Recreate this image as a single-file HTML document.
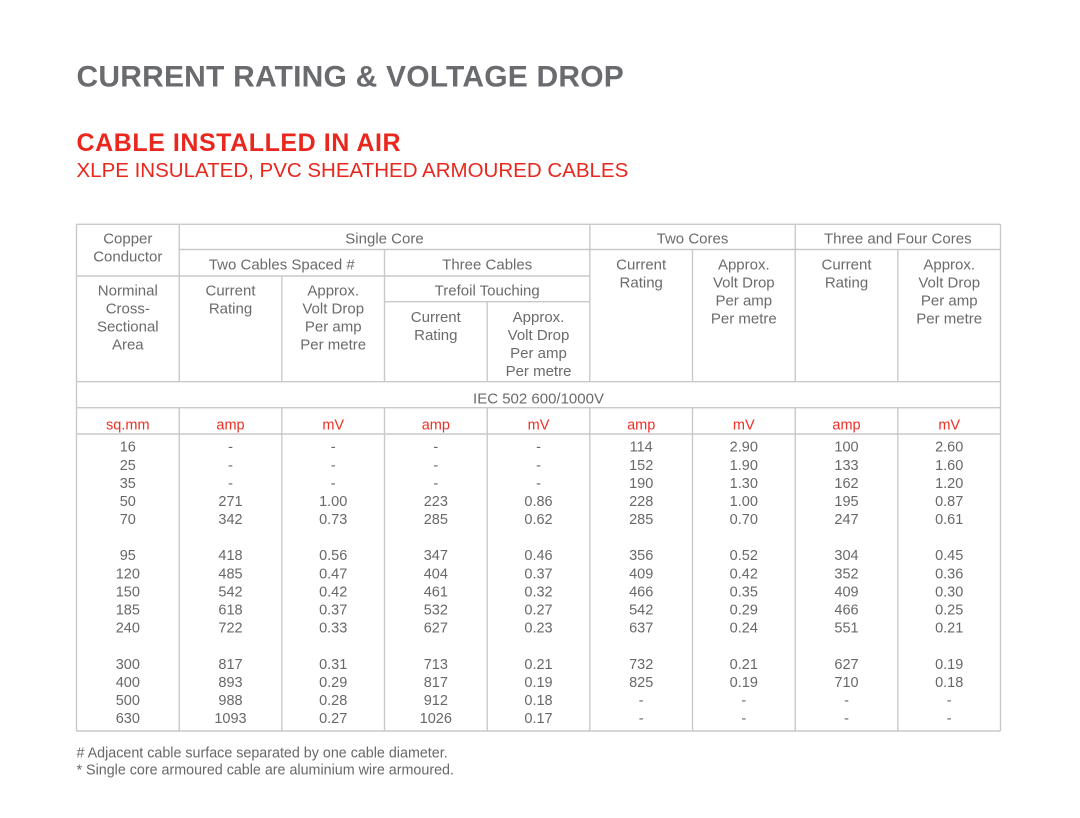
<!DOCTYPE html>
<html><head><meta charset="utf-8"><style>
html,body{margin:0;padding:0;background:#fff;}
body{width:1080px;height:818px;overflow:hidden;position:relative;}
svg{position:absolute;left:0;top:0;}
text{font-family:"Liberation Sans",Arial,sans-serif;}
.h{font-size:15px;fill:#6a6b6d;text-anchor:middle;}
.d{font-size:14.5px;fill:#67686a;text-anchor:middle;}
.u{font-size:14.5px;fill:#ee2e24;text-anchor:middle;}
.f{font-size:14.3px;fill:#67686a;}
</style></head><body>
<svg width="1080" height="818" viewBox="0 0 1080 818" xmlns="http://www.w3.org/2000/svg">
<rect width="1080" height="818" fill="#fff"/>
<text x="76.5" y="86.5" font-size="30" font-weight="bold" fill="#6a6b6e" letter-spacing="0.2">CURRENT RATING &amp; VOLTAGE DROP</text>
<text x="76.5" y="151.2" font-size="25" font-weight="bold" fill="#e9271e" letter-spacing="0.55">CABLE INSTALLED IN AIR</text>
<text x="76.5" y="177" font-size="20.5" fill="#e9271e">XLPE INSULATED, PVC SHEATHED ARMOURED CABLES</text>

<g stroke="#c9c9c9" stroke-width="1.4" fill="none">
<line x1="76.5" y1="224.3" x2="1000.5" y2="224.3"/>
<line x1="179.2" y1="249.5" x2="1000.5" y2="249.5"/>
<line x1="76.5" y1="276" x2="589.8" y2="276"/>
<line x1="384.5" y1="301.7" x2="589.8" y2="301.7"/>
<line x1="76.5" y1="381.7" x2="1000.5" y2="381.7"/>
<line x1="76.5" y1="407.7" x2="1000.5" y2="407.7"/>
<line x1="76.5" y1="434" x2="1000.5" y2="434"/>
<line x1="76.5" y1="731" x2="1000.5" y2="731"/>
<line x1="76.5" y1="224.3" x2="76.5" y2="731"/>
<line x1="1000.5" y1="224.3" x2="1000.5" y2="731"/>
<line x1="179.2" y1="224.3" x2="179.2" y2="381.7"/>
<line x1="281.8" y1="276" x2="281.8" y2="381.7"/>
<line x1="384.5" y1="249.5" x2="384.5" y2="381.7"/>
<line x1="487.2" y1="301.7" x2="487.2" y2="381.7"/>
<line x1="589.8" y1="224.3" x2="589.8" y2="381.7"/>
<line x1="692.5" y1="249.5" x2="692.5" y2="381.7"/>
<line x1="795.2" y1="224.3" x2="795.2" y2="381.7"/>
<line x1="897.8" y1="249.5" x2="897.8" y2="381.7"/>
<line x1="179.2" y1="407.7" x2="179.2" y2="731"/>
<line x1="281.8" y1="407.7" x2="281.8" y2="731"/>
<line x1="384.5" y1="407.7" x2="384.5" y2="731"/>
<line x1="487.2" y1="407.7" x2="487.2" y2="731"/>
<line x1="589.8" y1="407.7" x2="589.8" y2="731"/>
<line x1="692.5" y1="407.7" x2="692.5" y2="731"/>
<line x1="795.2" y1="407.7" x2="795.2" y2="731"/>
<line x1="897.8" y1="407.7" x2="897.8" y2="731"/>
</g>

<g class="h">
<text class="h" x="127.8" y="243.3">Copper</text>
<text class="h" x="127.8" y="261.3">Conductor</text>
<text class="h" x="384.5" y="243.3">Single Core</text>
<text class="h" x="692.5" y="243.3">Two Cores</text>
<text class="h" x="897.8" y="243.3">Three and Four Cores</text>
<text class="h" x="281.8" y="269.3">Two Cables Spaced #</text>
<text class="h" x="487.2" y="269.3">Three Cables</text>
<text class="h" x="487.2" y="295.3">Trefoil Touching</text>

<text class="h" x="127.8" y="295.3">Norminal</text>
<text class="h" x="127.8" y="313.3">Cross-</text>
<text class="h" x="127.8" y="331.3">Sectional</text>
<text class="h" x="127.8" y="349.3">Area</text>

<text class="h" x="230.5" y="295.3">Current</text>
<text class="h" x="230.5" y="313.3">Rating</text>
<text class="h" x="333.2" y="295.3">Approx.</text>
<text class="h" x="333.2" y="313.3">Volt Drop</text>
<text class="h" x="333.2" y="331.3">Per amp</text>
<text class="h" x="333.2" y="349.3">Per metre</text>

<text class="h" x="435.8" y="321.8">Current</text>
<text class="h" x="435.8" y="339.8">Rating</text>
<text class="h" x="538.5" y="321.8">Approx.</text>
<text class="h" x="538.5" y="339.8">Volt Drop</text>
<text class="h" x="538.5" y="357.8">Per amp</text>
<text class="h" x="538.5" y="375.8">Per metre</text>

<text class="h" x="641.2" y="269.3">Current</text>
<text class="h" x="641.2" y="287.3">Rating</text>
<text class="h" x="743.8" y="269.3">Approx.</text>
<text class="h" x="743.8" y="287.3">Volt Drop</text>
<text class="h" x="743.8" y="305.3">Per amp</text>
<text class="h" x="743.8" y="323.3">Per metre</text>

<text class="h" x="846.5" y="269.3">Current</text>
<text class="h" x="846.5" y="287.3">Rating</text>
<text class="h" x="949.2" y="269.3">Approx.</text>
<text class="h" x="949.2" y="287.3">Volt Drop</text>
<text class="h" x="949.2" y="305.3">Per amp</text>
<text class="h" x="949.2" y="323.3">Per metre</text>

<text class="h" x="538.5" y="403.6">IEC 502 600/1000V</text>
</g>

<text class="u" y="429.3"><tspan x="127.8">sq.mm</tspan><tspan x="230.5">amp</tspan><tspan x="333.2">mV</tspan><tspan x="435.8">amp</tspan><tspan x="538.5">mV</tspan><tspan x="641.2">amp</tspan><tspan x="743.8">mV</tspan><tspan x="846.5">amp</tspan><tspan x="949.2">mV</tspan></text>

<text class="d" y="451.7"><tspan x="127.8">16</tspan><tspan x="230.5">-</tspan><tspan x="333.2">-</tspan><tspan x="435.8">-</tspan><tspan x="538.5">-</tspan><tspan x="641.2">114</tspan><tspan x="743.8">2.90</tspan><tspan x="846.5">100</tspan><tspan x="949.2">2.60</tspan></text>
<text class="d" y="469.8"><tspan x="127.8">25</tspan><tspan x="230.5">-</tspan><tspan x="333.2">-</tspan><tspan x="435.8">-</tspan><tspan x="538.5">-</tspan><tspan x="641.2">152</tspan><tspan x="743.8">1.90</tspan><tspan x="846.5">133</tspan><tspan x="949.2">1.60</tspan></text>
<text class="d" y="487.9"><tspan x="127.8">35</tspan><tspan x="230.5">-</tspan><tspan x="333.2">-</tspan><tspan x="435.8">-</tspan><tspan x="538.5">-</tspan><tspan x="641.2">190</tspan><tspan x="743.8">1.30</tspan><tspan x="846.5">162</tspan><tspan x="949.2">1.20</tspan></text>
<text class="d" y="506.0"><tspan x="127.8">50</tspan><tspan x="230.5">271</tspan><tspan x="333.2">1.00</tspan><tspan x="435.8">223</tspan><tspan x="538.5">0.86</tspan><tspan x="641.2">228</tspan><tspan x="743.8">1.00</tspan><tspan x="846.5">195</tspan><tspan x="949.2">0.87</tspan></text>
<text class="d" y="524.1"><tspan x="127.8">70</tspan><tspan x="230.5">342</tspan><tspan x="333.2">0.73</tspan><tspan x="435.8">285</tspan><tspan x="538.5">0.62</tspan><tspan x="641.2">285</tspan><tspan x="743.8">0.70</tspan><tspan x="846.5">247</tspan><tspan x="949.2">0.61</tspan></text>

<text class="d" y="560.2"><tspan x="127.8">95</tspan><tspan x="230.5">418</tspan><tspan x="333.2">0.56</tspan><tspan x="435.8">347</tspan><tspan x="538.5">0.46</tspan><tspan x="641.2">356</tspan><tspan x="743.8">0.52</tspan><tspan x="846.5">304</tspan><tspan x="949.2">0.45</tspan></text>
<text class="d" y="578.3"><tspan x="127.8">120</tspan><tspan x="230.5">485</tspan><tspan x="333.2">0.47</tspan><tspan x="435.8">404</tspan><tspan x="538.5">0.37</tspan><tspan x="641.2">409</tspan><tspan x="743.8">0.42</tspan><tspan x="846.5">352</tspan><tspan x="949.2">0.36</tspan></text>
<text class="d" y="596.4"><tspan x="127.8">150</tspan><tspan x="230.5">542</tspan><tspan x="333.2">0.42</tspan><tspan x="435.8">461</tspan><tspan x="538.5">0.32</tspan><tspan x="641.2">466</tspan><tspan x="743.8">0.35</tspan><tspan x="846.5">409</tspan><tspan x="949.2">0.30</tspan></text>
<text class="d" y="614.5"><tspan x="127.8">185</tspan><tspan x="230.5">618</tspan><tspan x="333.2">0.37</tspan><tspan x="435.8">532</tspan><tspan x="538.5">0.27</tspan><tspan x="641.2">542</tspan><tspan x="743.8">0.29</tspan><tspan x="846.5">466</tspan><tspan x="949.2">0.25</tspan></text>
<text class="d" y="632.6"><tspan x="127.8">240</tspan><tspan x="230.5">722</tspan><tspan x="333.2">0.33</tspan><tspan x="435.8">627</tspan><tspan x="538.5">0.23</tspan><tspan x="641.2">637</tspan><tspan x="743.8">0.24</tspan><tspan x="846.5">551</tspan><tspan x="949.2">0.21</tspan></text>

<text class="d" y="668.8"><tspan x="127.8">300</tspan><tspan x="230.5">817</tspan><tspan x="333.2">0.31</tspan><tspan x="435.8">713</tspan><tspan x="538.5">0.21</tspan><tspan x="641.2">732</tspan><tspan x="743.8">0.21</tspan><tspan x="846.5">627</tspan><tspan x="949.2">0.19</tspan></text>
<text class="d" y="686.9"><tspan x="127.8">400</tspan><tspan x="230.5">893</tspan><tspan x="333.2">0.29</tspan><tspan x="435.8">817</tspan><tspan x="538.5">0.19</tspan><tspan x="641.2">825</tspan><tspan x="743.8">0.19</tspan><tspan x="846.5">710</tspan><tspan x="949.2">0.18</tspan></text>
<text class="d" y="705.0"><tspan x="127.8">500</tspan><tspan x="230.5">988</tspan><tspan x="333.2">0.28</tspan><tspan x="435.8">912</tspan><tspan x="538.5">0.18</tspan><tspan x="641.2">-</tspan><tspan x="743.8">-</tspan><tspan x="846.5">-</tspan><tspan x="949.2">-</tspan></text>
<text class="d" y="723.1"><tspan x="127.8">630</tspan><tspan x="230.5">1093</tspan><tspan x="333.2">0.27</tspan><tspan x="435.8">1026</tspan><tspan x="538.5">0.17</tspan><tspan x="641.2">-</tspan><tspan x="743.8">-</tspan><tspan x="846.5">-</tspan><tspan x="949.2">-</tspan></text>

<text class="f" x="76.5" y="757.3"># Adjacent cable surface separated by one cable diameter.</text>
<text class="f" x="76.5" y="774.3">* Single core armoured cable are aluminium wire armoured.</text>
</svg>
</body></html>
